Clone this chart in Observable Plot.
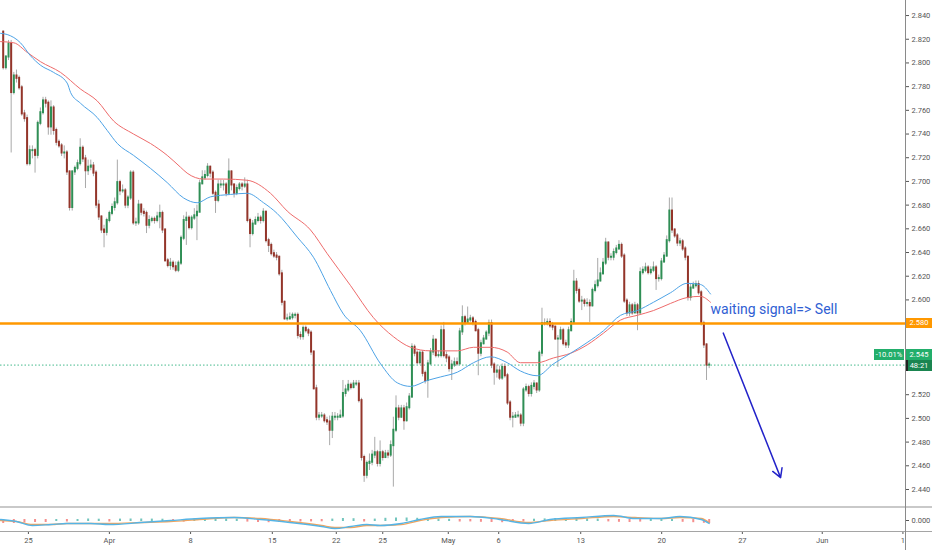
<!DOCTYPE html>
<html>
<head>
<meta charset="utf-8">
<script src="https://cdn.jsdelivr.net/npm/d3@7"></script>
<script src="https://cdn.jsdelivr.net/npm/@observablehq/plot@0.6"></script>
<style>
  body { margin: 0; background: #fff; font-family: Roboto, "DejaVu Sans", sans-serif; }
  #wrap { position: relative; width: 932px; height: 550px; overflow: hidden; background: #fff; }
  #wrap svg { display: block; }
  .tag { position: absolute; color: #fff; font-size: 7.5px; text-align: center; font-family: Roboto, sans-serif; }
  .line { position: absolute; }
</style>
</head>
<body>
<div id="wrap">
  <div id="main"></div>
  <div id="sub"></div>
</div>
<script>
// candles, oldest first (open of each bar = close of the bar before)
const firstOpen = 2.826;
const priceClose = [
  2.796, 2.805, 2.816, 2.775, 2.789, 2.787, 2.779, 2.757, 2.753, 2.715,
  2.726, 2.726, 2.722, 2.749, 2.758, 2.768, 2.766, 2.746, 2.762, 2.743,
  2.733, 2.730, 2.724, 2.724, 2.708, 2.678, 2.708, 2.711, 2.715, 2.728,
  2.719, 2.709, 2.712, 2.713, 2.707, 2.680, 2.670, 2.659, 2.657, 2.667,
  2.673, 2.678, 2.682, 2.699, 2.692, 2.692, 2.680, 2.686, 2.707, 2.665,
  2.665, 2.680, 2.674, 2.673, 2.663, 2.667, 2.668, 2.667, 2.670, 2.673,
  2.659, 2.633, 2.629, 2.631, 2.628, 2.625, 2.631, 2.652, 2.667, 2.669,
  2.661, 2.669, 2.671, 2.674, 2.698, 2.703, 2.705, 2.712, 2.707, 2.690,
  2.684, 2.697, 2.697, 2.697, 2.690, 2.708, 2.697, 2.690, 2.694, 2.697,
  2.696, 2.697, 2.667, 2.656, 2.664, 2.667, 2.669, 2.667, 2.674, 2.650,
  2.646, 2.639, 2.637, 2.636, 2.622, 2.598, 2.584, 2.584, 2.585, 2.587,
  2.587, 2.570, 2.569, 2.576, 2.574, 2.572, 2.556, 2.525, 2.501, 2.502,
  2.502, 2.498, 2.497, 2.490, 2.501, 2.501, 2.501, 2.502, 2.521, 2.524,
  2.528, 2.526, 2.529, 2.529, 2.515, 2.467, 2.452, 2.462, 2.463, 2.469,
  2.471, 2.462, 2.471, 2.467, 2.470, 2.469, 2.477, 2.490, 2.508, 2.501,
  2.508, 2.498, 2.509, 2.518, 2.560, 2.555, 2.547, 2.555, 2.538, 2.532,
  2.546, 2.556, 2.566, 2.553, 2.553, 2.574, 2.553, 2.551, 2.542, 2.545,
  2.547, 2.546, 2.573, 2.585, 2.581, 2.583, 2.584, 2.581, 2.574, 2.555,
  2.563, 2.567, 2.572, 2.580, 2.545, 2.539, 2.540, 2.534, 2.543, 2.536,
  2.513, 2.501, 2.501, 2.502, 2.502, 2.496, 2.524, 2.526, 2.521, 2.527,
  2.529, 2.524, 2.555, 2.580, 2.580, 2.581, 2.578, 2.577, 2.567, 2.567,
  2.574, 2.563, 2.562, 2.574, 2.581, 2.615, 2.608, 2.599, 2.599, 2.597,
  2.597, 2.595, 2.608, 2.612, 2.616, 2.622, 2.631, 2.648, 2.636, 2.636,
  2.640, 2.643, 2.646, 2.637, 2.599, 2.589, 2.595, 2.589, 2.595, 2.589,
  2.623, 2.625, 2.627, 2.623, 2.625, 2.627, 2.618, 2.618, 2.632, 2.637,
  2.650, 2.675, 2.659, 2.654, 2.648, 2.649, 2.643, 2.636, 2.602, 2.610,
  2.612, 2.613, 2.606, 2.580, 2.562, 2.545, 2.545
];
const priceHigh = [
  2.827, 2.806, 2.819, 2.819, 2.792, 2.794, 2.789, 2.781, 2.760, 2.756,
  2.730, 2.730, 2.728, 2.751, 2.762, 2.771, 2.771, 2.768, 2.768, 2.764,
  2.745, 2.735, 2.732, 2.730, 2.726, 2.709, 2.709, 2.713, 2.718, 2.736,
  2.730, 2.722, 2.718, 2.718, 2.716, 2.709, 2.684, 2.671, 2.663, 2.669,
  2.675, 2.681, 2.686, 2.718, 2.701, 2.697, 2.694, 2.688, 2.709, 2.709,
  2.669, 2.684, 2.681, 2.677, 2.675, 2.671, 2.670, 2.670, 2.674, 2.680,
  2.675, 2.660, 2.635, 2.635, 2.633, 2.632, 2.633, 2.654, 2.671, 2.674,
  2.671, 2.671, 2.677, 2.680, 2.701, 2.709, 2.709, 2.715, 2.713, 2.709,
  2.692, 2.701, 2.701, 2.701, 2.699, 2.719, 2.709, 2.698, 2.697, 2.699,
  2.699, 2.703, 2.701, 2.669, 2.667, 2.670, 2.673, 2.671, 2.677, 2.675,
  2.652, 2.648, 2.642, 2.640, 2.637, 2.625, 2.599, 2.588, 2.589, 2.589,
  2.589, 2.589, 2.573, 2.578, 2.578, 2.576, 2.574, 2.557, 2.528, 2.505,
  2.505, 2.504, 2.501, 2.502, 2.505, 2.505, 2.504, 2.507, 2.532, 2.528,
  2.532, 2.530, 2.532, 2.532, 2.532, 2.517, 2.469, 2.464, 2.470, 2.473,
  2.484, 2.473, 2.481, 2.473, 2.473, 2.473, 2.481, 2.501, 2.519, 2.511,
  2.511, 2.511, 2.513, 2.521, 2.563, 2.562, 2.557, 2.557, 2.557, 2.540,
  2.549, 2.559, 2.570, 2.567, 2.557, 2.578, 2.581, 2.556, 2.553, 2.549,
  2.551, 2.551, 2.576, 2.595, 2.587, 2.594, 2.587, 2.586, 2.583, 2.576,
  2.566, 2.570, 2.574, 2.583, 2.583, 2.547, 2.545, 2.544, 2.546, 2.546,
  2.538, 2.515, 2.505, 2.505, 2.506, 2.504, 2.526, 2.529, 2.528, 2.530,
  2.532, 2.530, 2.557, 2.593, 2.584, 2.584, 2.584, 2.581, 2.578, 2.570,
  2.577, 2.576, 2.566, 2.577, 2.584, 2.625, 2.618, 2.610, 2.603, 2.601,
  2.601, 2.600, 2.610, 2.616, 2.635, 2.627, 2.635, 2.652, 2.649, 2.639,
  2.643, 2.646, 2.650, 2.648, 2.639, 2.601, 2.598, 2.597, 2.598, 2.597,
  2.627, 2.628, 2.631, 2.629, 2.628, 2.632, 2.629, 2.621, 2.635, 2.640,
  2.654, 2.686, 2.686, 2.660, 2.656, 2.652, 2.651, 2.645, 2.637, 2.613,
  2.615, 2.616, 2.616, 2.608, 2.582, 2.563, 2.547
];
const priceLow = [
  2.794, 2.794, 2.802, 2.724, 2.773, 2.783, 2.777, 2.755, 2.750, 2.713,
  2.713, 2.719, 2.707, 2.719, 2.747, 2.756, 2.762, 2.739, 2.739, 2.739,
  2.730, 2.728, 2.721, 2.719, 2.705, 2.675, 2.675, 2.705, 2.709, 2.713,
  2.716, 2.694, 2.705, 2.709, 2.704, 2.677, 2.667, 2.656, 2.644, 2.654,
  2.665, 2.671, 2.675, 2.680, 2.688, 2.690, 2.677, 2.677, 2.684, 2.663,
  2.662, 2.663, 2.671, 2.670, 2.656, 2.660, 2.665, 2.664, 2.665, 2.660,
  2.656, 2.632, 2.627, 2.625, 2.625, 2.623, 2.623, 2.629, 2.650, 2.646,
  2.659, 2.659, 2.667, 2.650, 2.674, 2.697, 2.701, 2.703, 2.703, 2.688,
  2.673, 2.682, 2.694, 2.692, 2.687, 2.688, 2.692, 2.686, 2.688, 2.692,
  2.692, 2.694, 2.665, 2.644, 2.654, 2.663, 2.665, 2.664, 2.665, 2.648,
  2.640, 2.637, 2.635, 2.633, 2.620, 2.595, 2.583, 2.582, 2.583, 2.583,
  2.584, 2.567, 2.566, 2.566, 2.572, 2.569, 2.553, 2.524, 2.498, 2.498,
  2.500, 2.496, 2.494, 2.477, 2.483, 2.498, 2.498, 2.500, 2.500, 2.518,
  2.522, 2.524, 2.525, 2.527, 2.513, 2.464, 2.446, 2.449, 2.456, 2.460,
  2.466, 2.459, 2.459, 2.464, 2.466, 2.466, 2.467, 2.442, 2.488, 2.498,
  2.500, 2.490, 2.497, 2.507, 2.517, 2.552, 2.545, 2.545, 2.535, 2.529,
  2.517, 2.545, 2.553, 2.551, 2.551, 2.551, 2.551, 2.547, 2.539, 2.532,
  2.543, 2.544, 2.545, 2.570, 2.578, 2.580, 2.581, 2.578, 2.573, 2.536,
  2.552, 2.562, 2.566, 2.569, 2.542, 2.528, 2.534, 2.532, 2.532, 2.534,
  2.511, 2.498, 2.492, 2.500, 2.500, 2.493, 2.493, 2.522, 2.518, 2.518,
  2.524, 2.521, 2.522, 2.552, 2.578, 2.578, 2.576, 2.574, 2.566, 2.543,
  2.566, 2.561, 2.559, 2.559, 2.573, 2.579, 2.605, 2.597, 2.591, 2.594,
  2.594, 2.581, 2.594, 2.606, 2.610, 2.615, 2.621, 2.629, 2.633, 2.633,
  2.633, 2.638, 2.642, 2.635, 2.597, 2.586, 2.586, 2.587, 2.589, 2.574,
  2.588, 2.621, 2.623, 2.621, 2.621, 2.623, 2.608, 2.615, 2.616, 2.631,
  2.636, 2.648, 2.656, 2.652, 2.645, 2.645, 2.641, 2.633, 2.599, 2.599,
  2.609, 2.610, 2.604, 2.578, 2.559, 2.532, 2.542
];

// moving averages, read at bar positions
const maBlueBars = [-1, 1.5, 6.5, 10.3, 14.1, 19, 24.1, 25.4, 29.1, 35.4, 39.2, 43, 49.1, 55.5, 61.8,
  68, 73.1, 78.1, 85.6, 91.9, 98.1, 103.2, 110.8, 116.9, 123.3, 128.2, 134.6, 142.2, 148.5, 153.5,
  159.8, 164.8, 171.1, 177.2, 183.6, 189.9, 194.9, 201.2, 207.3, 213.8, 220, 226.2, 232.6, 238.9, 245,
  251.4, 257.7, 262.7, 266.5];
const maBlue = [2.825, 2.824, 2.817, 2.806, 2.798, 2.792, 2.783, 2.775, 2.766, 2.754, 2.743, 2.732, 2.722, 2.711, 2.699,
  2.686, 2.682, 2.687, 2.689, 2.690, 2.682, 2.673, 2.653, 2.636, 2.608, 2.588, 2.574, 2.546, 2.530, 2.527,
  2.532, 2.535, 2.539, 2.547, 2.552, 2.547, 2.540, 2.536, 2.546, 2.555, 2.564, 2.574, 2.587, 2.591, 2.598,
  2.606, 2.614, 2.613, 2.605];
const maRedBars = [-1, 4, 9, 14.1, 21.6, 29.1, 35.4, 41.6, 49.1, 55.5, 61.8, 66.8, 69.3, 75.5, 83,
  91.9, 100.7, 107, 115.8, 122.1, 130.9, 139.5, 147, 153.5, 161, 171.1, 177.2, 183.6, 189.9, 194.9,
  201.2, 207.3, 213.8, 220, 226.2, 232.6, 238.9, 245, 251.4, 257.7, 262.7, 266.5];
const maRed = [2.818, 2.817, 2.809, 2.801, 2.792, 2.778, 2.768, 2.751, 2.740, 2.732, 2.722, 2.712, 2.707, 2.702, 2.702,
  2.701, 2.690, 2.675, 2.659, 2.639, 2.612, 2.585, 2.569, 2.560, 2.557, 2.557, 2.560, 2.560, 2.556, 2.547,
  2.547, 2.551, 2.555, 2.562, 2.572, 2.583, 2.587, 2.591, 2.597, 2.602, 2.603, 2.598];

// lower oscillator pane
const oscBars = [-1, 5, 11, 18, 24, 33, 40, 52, 63, 74, 87, 97, 108, 120, 125, 131, 137, 142, 150, 157,
  165, 176, 187, 198, 206, 218, 230, 238, 248, 255, 263, 266];
const oscFast = [0.001, -0.001, -0.005, -0.004, -0.003, -0.003, -0.004, -0.002, 0, 0.002, 0.003, 0.001, -0.002, -0.006, -0.008, -0.006, -0.004, -0.005, -0.003, 0.001,
  0.004, 0.004, 0.001, -0.003, 0.001, 0.003, 0.005, 0.002, 0.002, 0.004, 0.001, -0.003];
const oscSlow = [0, -0.001, -0.004, -0.004, -0.003, -0.003, -0.003, -0.002, -0.001, 0.001, 0.003, 0.002, -0.001, -0.005, -0.007, -0.007, -0.005, -0.005, -0.004, 0,
  0.003, 0.004, 0.002, -0.002, 0, 0.002, 0.004, 0.003, 0.002, 0.003, 0.002, -0.002];
const histBars = [0, 4, 8, 12, 16, 20, 24, 28, 32, 36, 40, 44, 48, 52, 56, 60, 64, 68, 72, 76, 80, 84, 88, 92,
  96, 100, 104, 108, 112, 116, 120, 124, 128, 132, 136, 140, 144, 148, 152, 156, 160, 164, 168, 172, 176,
  180, 184, 188, 192, 196, 200, 204, 208, 212, 216, 220, 224, 228, 232, 236, 240, 244, 248, 252, 256, 260, 264, 266];
const histVals = [-0.002, -0.002, -0.0015, -0.001, -0.001, 0, -0.0005, 0, 0.0005, 0.0003, -0.0005, 0.0004,
  0.0005, 0.0005, 0.0004, 0.0003, -0.0003, -0.0006, 0.0006, 0.001, 0.0008, 0.0005, 0.0003, -0.0006,
  -0.001, -0.0012, -0.001, -0.0008, -0.0005, -0.0004, -0.0003, 0.0004, 0.001, 0.0008, -0.0005, 0.0004,
  0.0012, 0.0015, 0.0015, 0.0012, 0.0008, 0.0004, 0.0002, -0.0005, -0.0004, -0.0008, -0.001, -0.0012,
  -0.0008, -0.0004, 0.0003, 0.0006, 0.001, 0.001, 0.0008, 0.0006, 0.0004, -0.0004, -0.0008, -0.001,
  -0.0006, 0.0003, 0.0004, 0.0003, -0.0008, -0.0012, -0.0018, -0.002];

// axes (2.54 / 2.56 / 2.58 sit under the price tags, as on the original)
const priceTicks = [2.44, 2.46, 2.48, 2.50, 2.52, 2.60, 2.62, 2.64, 2.66, 2.68, 2.70, 2.72, 2.74, 2.76, 2.78, 2.80, 2.82, 2.84];
const dateBars = [9.5, 40, 70.6, 101.4, 125.5, 143, 167.7, 186.7, 217.6, 248.1, 278.5, 308.6, 339];
const dateLabels = ["25", "Apr", "8", "15", "22", "25", "May", "6", "13", "20", "27", "Jun", "1"];

const level = 2.580;
const lastPrice = 2.545;
const changeText = "-10.01%";
const countdown = "48:21";
const noteText = "waiting signal=> Sell";

const candles = priceClose.map((c, i) => ({
  i, close: c, high: priceHigh[i], low: priceLow[i],
  open: i === 0 ? firstOpen : priceClose[i - 1]
}));
const blueLine = maBlueBars.map((b, k) => ({ i: b, p: maBlue[k] }));
const redLine = maRedBars.map((b, k) => ({ i: b, p: maRed[k] }));
const fastLine = oscBars.map((b, k) => ({ i: b, v: oscFast[k] }));
const slowLine = oscBars.map((b, k) => ({ i: b, v: oscSlow[k] }));
const hist = histBars.map((b, k) => ({ i: b, v: histVals[k] }));

const xDomain = [-1.02, 339.97];
const up = "#2f8f55";
const down = "#94352a";
const fmt = d3.format(".3f");

const main = Plot.plot({
  width: 932,
  height: 507,
  marginLeft: 0,
  marginRight: 27,
  marginTop: 0,
  marginBottom: 0,
  style: { fontFamily: "Roboto, sans-serif", fontSize: "7.5px", background: "#fff", overflow: "visible" },
  x: { domain: xDomain, axis: null },
  y: { domain: [2.4248, 2.8527], axis: null },
  marks: [
    Plot.ruleY([lastPrice], { stroke: "#46b98c", strokeDasharray: "1.5,2", strokeWidth: 1 }),
    Plot.ruleX(candles, { x: "i", y1: "low", y2: "high", stroke: "#a9a9a9", strokeWidth: 1 }),
    Plot.ruleX(candles, {
      x: "i", y1: "open", y2: "close",
      stroke: (d) => (d.close >= d.open ? up : down),
      strokeWidth: 2, strokeLinecap: "square"
    }),
    Plot.line(redLine, { x: "i", y: "p", stroke: "#ee6b6b", strokeWidth: 1, curve: "monotone-x" }),
    Plot.line(blueLine, { x: "i", y: "p", stroke: "#4ea3e6", strokeWidth: 1, curve: "monotone-x" }),
    Plot.ruleY([level], { stroke: "#ff9800", strokeWidth: 2.5 }),
    Plot.text([{ i: 266.5, p: 2.592 }], {
      x: "i", y: "p", text: () => noteText, textAnchor: "start",
      fill: "#2f60d3", fontSize: 14, fontFamily: "Roboto, sans-serif"
    }),
    Plot.arrow([{ x1: 271.3, y1: 2.572, x2: 292.9, y2: 2.450 }], {
      x1: "x1", y1: "y1", x2: "x2", y2: "y2",
      stroke: "#2323c9", strokeWidth: 1.5, headLength: 10
    }),
    Plot.axisY({
      anchor: "right", ticks: priceTicks, tickFormat: fmt,
      tickSize: 3, tickPadding: 3, color: "#555", label: null
    })
  ]
});

const sub = Plot.plot({
  width: 932,
  height: 43,
  marginLeft: 0,
  marginRight: 27,
  marginTop: 0,
  marginBottom: 19,
  style: { fontFamily: "Roboto, sans-serif", fontSize: "7.5px", background: "#fff", overflow: "visible" },
  x: { domain: xDomain, axis: null },
  y: { domain: [-0.011, 0.013], axis: null },
  marks: [
    Plot.ruleX(hist, {
      x: "i", y1: 0, y2: "v",
      stroke: (d) => (d.v >= 0 ? "#26a69a" : "#ef5350"),
      strokeOpacity: 0.65, strokeWidth: 2, strokeLinecap: "square"
    }),
    Plot.line(slowLine, { x: "i", y: "v", stroke: "#f3a45c", strokeWidth: 1.3, curve: "monotone-x" }),
    Plot.line(fastLine, { x: "i", y: "v", stroke: "#55b4e6", strokeWidth: 1.3, curve: "monotone-x" }),
    Plot.axisX({
      ticks: dateBars, tickFormat: (d) => dateLabels[dateBars.indexOf(d)],
      tickSize: 3, tickPadding: 3, color: "#555", label: null
    }),
    Plot.axisY({
      anchor: "right", ticks: [0], tickFormat: fmt,
      tickSize: 3, tickPadding: 3, color: "#555", label: null
    })
  ]
});

document.getElementById("main").append(main);
document.getElementById("sub").append(sub);

// frame lines and price tags placed from the plot's own scales
const wrap = document.getElementById("wrap");
const ys = main.scale("y");
const axisPx = main.scale("x").range[1];

function box(cls, css, text) {
  const d = document.createElement("div");
  d.className = cls;
  Object.assign(d.style, css);
  if (text) d.textContent = text;
  wrap.append(d);
  return d;
}

box("line", { left: "0px", top: "506px", width: "932px", height: "2px", background: "#c9c9c9" });
box("line", { left: "0px", top: "530.5px", width: "932px", height: "1px", background: "#a5a5a5" });
box("line", { left: axisPx + "px", top: "0px", width: "1px", height: "550px", background: "#8a8a8a" });

const ly = ys.apply(level);
box("tag", { left: axisPx + 1 + "px", top: ly - 5 + "px", width: "26px", height: "10px", lineHeight: "10px", background: "#ff9800" }, fmt(level));

const py = ys.apply(lastPrice);
box("tag", { left: axisPx + 1 + "px", top: py - 16 + "px", width: "26px", height: "11px", lineHeight: "11px", background: "#22ae6b" }, fmt(lastPrice));
box("tag", { left: axisPx - 31 + "px", top: py - 16 + "px", width: "30px", height: "11px", lineHeight: "11px", background: "#22ae6b" }, changeText);
box("tag", { left: axisPx + 1 + "px", top: py - 4.5 + "px", width: "26px", height: "11px", lineHeight: "11px", background: "#1a8550" }, countdown);
box("line", { left: axisPx + 1 + "px", top: py - 4.5 + "px", width: "2px", height: "11px", background: "#222" });
</script>
</body>
</html>
